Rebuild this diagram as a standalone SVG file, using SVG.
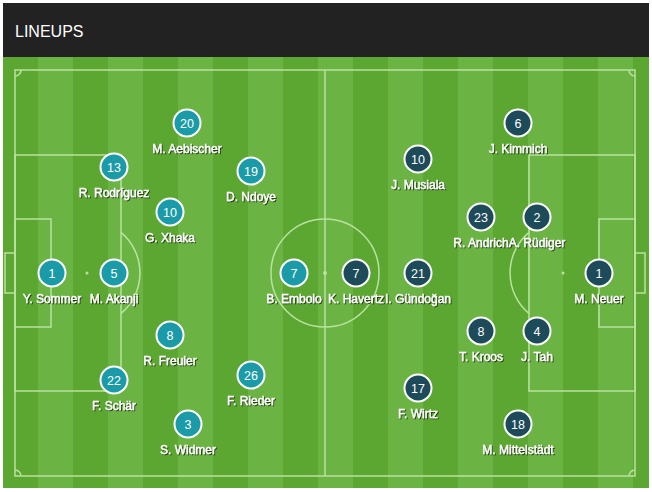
<svg xmlns="http://www.w3.org/2000/svg" width="652" height="492" viewBox="0 0 652 492">
<style>
.line{fill:none;stroke:#b9e29f;stroke-width:1.5}
.spot{fill:#b9e29f}
.dk{fill:#5ca632}
.lt{fill:#6bb444}
.sui circle{fill:#1a9ba7;stroke:#fff;stroke-width:2}
.ger circle{fill:#1e4b59;stroke:#fff;stroke-width:2}
.num{font-family:"Liberation Sans",Arial,sans-serif;font-size:12.5px;fill:#fff;text-anchor:middle}
.lbl{font-family:"Liberation Sans",Arial,sans-serif;font-size:12px;fill:#fff;stroke:#fff;stroke-width:0.35;text-anchor:middle;filter:url(#sh)}
</style>
<defs>
<filter id="sh" x="-20%" y="-50%" width="140%" height="200%">
<feDropShadow dx="1" dy="1" stdDeviation="0.6" flood-color="#1a2a10" flood-opacity="0.85"/>
</filter>
</defs>
<rect width="652" height="492" fill="#fff"/>
<rect x="3" y="3" width="646" height="55" fill="#222"/>
<text x="15" y="37" font-family="Liberation Sans,Arial,sans-serif" font-size="16" fill="#fff">LINEUPS</text>
<g id="pitch">
<rect x="3" y="57" width="646" height="431" class="dk"/>
<rect x="38" y="57" width="35" height="431" class="lt"/>
<rect x="108" y="57" width="35" height="431" class="lt"/>
<rect x="178" y="57" width="35" height="431" class="lt"/>
<rect x="248" y="57" width="35" height="431" class="lt"/>
<rect x="318" y="57" width="35" height="431" class="lt"/>
<rect x="388" y="57" width="35" height="431" class="lt"/>
<rect x="458" y="57" width="35" height="431" class="lt"/>
<rect x="528" y="57" width="35" height="431" class="lt"/>
<rect x="598" y="57" width="35" height="431" class="lt"/>
<rect x="15" y="70" width="620" height="406" class="line"/>
<line x1="325" y1="70" x2="325" y2="476" class="line"/>
<circle cx="325" cy="273" r="54" class="line"/>
<circle cx="325" cy="273" r="2" class="spot"/>
<rect x="15" y="155" width="106" height="236" class="line"/>
<rect x="15" y="219" width="36" height="108" class="line"/>
<rect x="5" y="253" width="10" height="40" class="line"/>
<circle cx="87" cy="273" r="1.5" class="spot"/>
<path d="M121,232.4 A53,53 0 0 1 121,313.6" class="line"/>
<rect x="529" y="155" width="106" height="236" class="line"/>
<rect x="599" y="219" width="36" height="108" class="line"/>
<rect x="635" y="253" width="10" height="40" class="line"/>
<circle cx="563" cy="273" r="1.5" class="spot"/>
<path d="M529,232.4 A53,53 0 0 0 529,313.6" class="line"/>
<path d="M15,76 A6,6 0 0 0 21,70" class="line"/>
<path d="M15,470 A6,6 0 0 1 21,476" class="line"/>
<path d="M629,70 A6,6 0 0 0 635,76" class="line"/>
<path d="M635,470 A6,6 0 0 0 629,476" class="line"/>
</g>
<g id="connectors"></g>
<g class="sui">
<g id="sui-1"><circle cx="52" cy="273" r="13.5"/><text x="52" y="277.5" class="num">1</text><text x="52" y="303" class="lbl">Y. Sommer</text></g>
<g id="sui-5"><circle cx="114" cy="273" r="13.5"/><text x="114" y="277.5" class="num">5</text><text x="114" y="303" class="lbl">M. Akanji</text></g>
<g id="sui-13"><circle cx="114" cy="167" r="13.5"/><text x="114" y="171.5" class="num">13</text><text x="114" y="197" class="lbl">R. Rodríguez</text></g>
<g id="sui-22"><circle cx="114" cy="380" r="13.5"/><text x="114" y="384.5" class="num">22</text><text x="114" y="410" class="lbl">F. Schär</text></g>
<g id="sui-10"><circle cx="170" cy="212" r="13.5"/><text x="170" y="216.5" class="num">10</text><text x="170" y="242" class="lbl">G. Xhaka</text></g>
<g id="sui-8"><circle cx="170" cy="335" r="13.5"/><text x="170" y="339.5" class="num">8</text><text x="170" y="365" class="lbl">R. Freuler</text></g>
<g id="sui-20"><circle cx="187" cy="123" r="13.5"/><text x="187" y="127.5" class="num">20</text><text x="187" y="153" class="lbl">M. Aebischer</text></g>
<g id="sui-3"><circle cx="188" cy="424" r="13.5"/><text x="188" y="428.5" class="num">3</text><text x="188" y="454" class="lbl">S. Widmer</text></g>
<g id="sui-19"><circle cx="251" cy="171" r="13.5"/><text x="251" y="175.5" class="num">19</text><text x="251" y="201" class="lbl">D. Ndoye</text></g>
<g id="sui-26"><circle cx="251" cy="375" r="13.5"/><text x="251" y="379.5" class="num">26</text><text x="251" y="405" class="lbl">F. Rieder</text></g>
<g id="sui-7"><circle cx="294" cy="273" r="13.5"/><text x="294" y="277.5" class="num">7</text><text x="294" y="303" class="lbl">B. Embolo</text></g>
</g>
<g class="ger">
<g id="ger-7"><circle cx="356" cy="273" r="13.5"/><text x="356" y="277.5" class="num">7</text><text x="356" y="303" class="lbl">K. Havertz</text></g>
<g id="ger-21"><circle cx="418" cy="273" r="13.5"/><text x="418" y="277.5" class="num">21</text><text x="418" y="303" class="lbl">I. Gündoğan</text></g>
<g id="ger-10"><circle cx="418" cy="159" r="13.5"/><text x="418" y="163.5" class="num">10</text><text x="418" y="189" class="lbl">J. Musiala</text></g>
<g id="ger-17"><circle cx="418" cy="388" r="13.5"/><text x="418" y="392.5" class="num">17</text><text x="418" y="418" class="lbl">F. Wirtz</text></g>
<g id="ger-23"><circle cx="481" cy="217" r="13.5"/><text x="481" y="221.5" class="num">23</text><text x="481" y="247" class="lbl">R. Andrich</text></g>
<g id="ger-8"><circle cx="481" cy="331" r="13.5"/><text x="481" y="335.5" class="num">8</text><text x="481" y="361" class="lbl">T. Kroos</text></g>
<g id="ger-6"><circle cx="518" cy="123" r="13.5"/><text x="518" y="127.5" class="num">6</text><text x="518" y="153" class="lbl">J. Kimmich</text></g>
<g id="ger-18"><circle cx="518" cy="424" r="13.5"/><text x="518" y="428.5" class="num">18</text><text x="518" y="454" class="lbl">M. Mittelstädt</text></g>
<g id="ger-2"><circle cx="537" cy="217" r="13.5"/><text x="537" y="221.5" class="num">2</text><text x="537" y="247" class="lbl">A. Rüdiger</text></g>
<g id="ger-4"><circle cx="537" cy="331" r="13.5"/><text x="537" y="335.5" class="num">4</text><text x="537" y="361" class="lbl">J. Tah</text></g>
<g id="ger-1"><circle cx="599" cy="273" r="13.5"/><text x="599" y="277.5" class="num">1</text><text x="599" y="303" class="lbl">M. Neuer</text></g>
</g>
</svg>
